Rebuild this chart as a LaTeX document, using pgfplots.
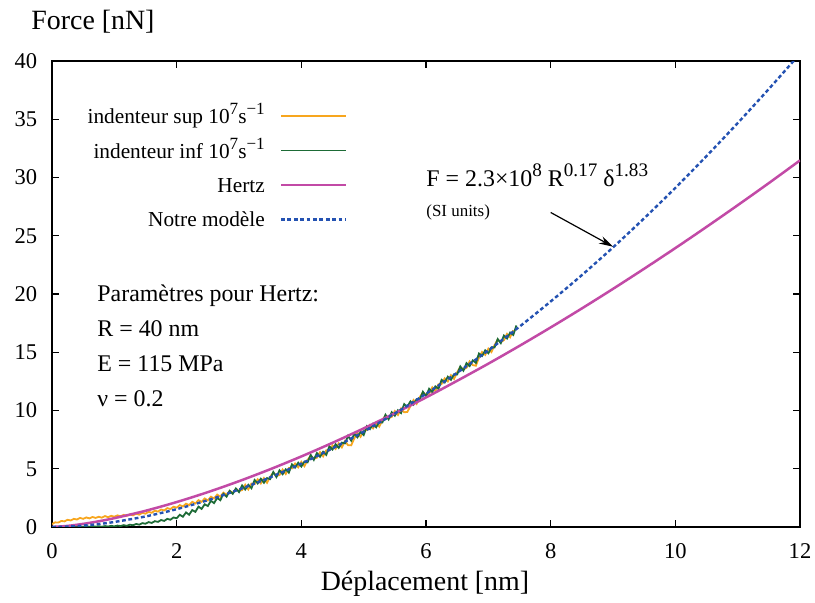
\documentclass[border=0pt]{standalone}
\usepackage{fontspec}
\setmainfont{Liberation Serif}
\usepackage{pgfplots}
\pgfplotsset{compat=1.18}
\usetikzlibrary{arrows.meta}
\definecolor{cOrange}{HTML}{F7A61E}
\definecolor{cGreen}{HTML}{1D6B36}
\definecolor{cPurple}{HTML}{C24AA6}
\definecolor{cBlue}{HTML}{2452B2}
\newcommand\sups[2]{\raisebox{0.42em}{\fontsize{#1}{#1}\selectfont #2}}
\begin{document}
\begin{tikzpicture}
\path[use as bounding box] (-26bp,-38bp) rectangle (381.5bp,263.5bp);
\begin{axis}[
  scale only axis, width=374bp, height=233bp,
  at={(0,0)}, anchor=south west,
  xmin=0, xmax=12, ymin=0, ymax=40,
  xtick={0,2,4,6,8,10,12}, ytick={0,5,10,15,20,25,30,35,40},
  tick align=inside, major tick length=3.5bp,
  axis line style={line width=0.6pt},
  every tick/.style={black, line width=0.6pt},
  /pgf/number format/assume math mode=true,
  tick label style={font=\fontsize{11.3}{13}\selectfont},
  xticklabel style={yshift=-4.7bp},
  yticklabel style={xshift=-3.9bp},
  clip mode=individual,
  legend cell align=right,
  legend plot pos=right,
  legend style={at={(axis cs:4.744,36.03)}, anchor=north east, draw=none, fill=none,
    inner sep=0pt, row sep=6.7bp, column sep=7.5bp, font=\fontsize{10.7}{12}\selectfont,
    nodes={inner sep=0pt, text height=8bp, text depth=2.5bp}},
  legend image code/.code={\draw[#1] (0bp,1bp) -- (32.5bp,1bp);},
]
\addplot[cOrange, line width=0.9bp] coordinates {
(0.00,0.25) (0.05,0.40) (0.10,0.38) (0.15,0.52) (0.20,0.48) (0.25,0.62) (0.30,0.56) (0.35,0.70)
(0.40,0.64) (0.45,0.78) (0.50,0.70) (0.55,0.82) (0.60,0.74) (0.65,0.86) (0.70,0.78) (0.75,0.88)
(0.80,0.80) (0.85,0.94) (0.90,0.84) (0.95,0.96) (1.00,0.88) (1.05,1.00) (1.10,0.92) (1.15,1.04)
(1.20,0.96) (1.25,1.08) (1.30,1.00) (1.35,1.14) (1.40,1.06) (1.45,1.22) (1.50,1.14) (1.55,1.30)
(1.60,1.22) (1.65,1.40) (1.70,1.32) (1.75,1.50) (1.80,1.42) (1.85,1.62) (1.90,1.54) (1.95,1.74)
(2.00,1.66) (2.05,1.88) (2.10,1.76) (2.15,2.00) (2.20,1.88) (2.25,2.16) (2.30,2.02) (2.35,2.30)
(2.40,2.16) (2.45,2.45) (2.50,2.28) (2.55,2.60) (2.60,2.45) (2.65,2.78) (2.70,2.60) (2.75,2.95)
(2.80,2.78) (2.85,3.10) (2.90,2.92) (2.95,3.28) (3.00,3.08) (3.05,3.17) (3.10,3.62) (3.15,3.22)
(3.20,3.73) (3.25,3.68) (3.30,4.09) (3.35,3.74) (3.40,4.20) (3.45,3.80) (3.50,4.31) (3.55,4.67)
(3.60,4.39) (3.65,4.46) (3.70,4.93) (3.75,4.55) (3.80,5.07) (3.85,5.03) (3.90,5.45) (3.95,5.12)
(4.00,5.59) (4.05,5.22) (4.10,5.75) (4.15,6.13) (4.20,5.86) (4.25,5.95) (4.30,6.43) (4.35,6.06)
(4.40,6.59) (4.45,6.57) (4.50,7.00) (4.55,6.70) (4.60,7.19) (4.65,6.84) (4.70,7.38) (4.75,7.02)
(4.80,7.01) (4.85,7.61) (4.90,8.10) (4.95,7.75) (5.00,8.29) (5.05,8.30) (5.10,8.75) (5.15,8.46)
(5.20,8.96) (5.25,8.62) (5.30,9.17) (5.35,9.58) (5.40,9.34) (5.45,9.45) (5.50,9.95) (5.55,9.62)
(5.60,10.18) (5.65,9.85) (5.70,9.87) (5.75,10.38) (5.80,10.90) (5.85,10.57) (5.90,11.14) (5.95,11.56)
(6.00,11.33) (6.05,11.46) (6.10,11.99) (6.15,11.67) (6.20,12.25) (6.25,12.28) (6.30,12.76) (6.35,12.50)
(6.40,13.03) (6.45,12.71) (6.50,13.29) (6.55,13.73) (6.60,13.52) (6.65,13.67) (6.70,14.21) (6.75,13.90)
(6.80,13.84) (6.85,14.54) (6.90,15.03) (6.95,14.77) (7.00,15.31) (7.05,15.02) (7.10,15.62) (7.15,16.08)
(7.20,15.88) (7.25,16.03) (7.30,16.58) (7.35,16.29) (7.40,16.89)
};
\addlegendentry{indenteur sup 10\sups{8.6}{7}s\sups{8.6}{−1}}
\addplot[cGreen, line width=0.9bp] coordinates {
(0.00,0.00) (0.05,0.03) (0.10,0.00) (0.15,0.04) (0.20,0.01) (0.25,0.03) (0.30,0.00) (0.35,0.05)
(0.40,0.02) (0.45,0.04) (0.50,0.01) (0.55,0.06) (0.60,0.02) (0.65,0.05) (0.70,0.03) (0.75,0.07)
(0.80,0.02) (0.85,0.08) (0.90,0.04) (0.95,0.10) (1.00,0.05) (1.05,0.12) (1.10,0.08) (1.15,0.16)
(1.20,0.10) (1.25,0.20) (1.30,0.15) (1.35,0.26) (1.40,0.20) (1.45,0.33) (1.50,0.28) (1.55,0.42)
(1.60,0.35) (1.65,0.50) (1.70,0.44) (1.75,0.60) (1.80,0.52) (1.85,0.70) (1.90,0.62) (1.95,0.82)
(2.00,0.75) (2.05,1.05) (2.10,0.88) (2.15,1.25) (2.20,1.05) (2.25,1.45) (2.30,1.30) (2.35,1.75)
(2.40,1.55) (2.45,1.95) (2.50,1.80) (2.55,2.25) (2.60,2.05) (2.65,2.50) (2.70,2.30) (2.75,2.85)
(2.80,2.60) (2.85,3.10) (2.90,2.85) (2.95,3.30) (3.00,3.00) (3.05,3.57) (3.10,3.22) (3.15,3.62)
(3.20,3.33) (3.25,4.03) (3.30,3.74) (3.35,4.14) (3.40,3.80) (3.45,4.20) (3.50,4.11) (3.55,4.72)
(3.60,4.29) (3.65,4.86) (3.70,4.53) (3.75,4.95) (3.80,4.67) (3.85,5.38) (3.90,5.10) (3.95,5.52)
(4.00,5.19) (4.05,5.62) (4.10,5.55) (4.15,6.18) (4.20,5.76) (4.25,6.35) (4.30,6.03) (4.35,6.46)
(4.40,6.19) (4.45,6.92) (4.50,6.65) (4.55,7.10) (4.60,6.79) (4.65,7.24) (4.70,7.18) (4.75,7.82)
(4.80,7.41) (4.85,8.01) (4.90,7.70) (4.95,8.15) (5.00,7.89) (5.05,8.65) (5.10,8.40) (5.15,8.86)
(5.20,8.56) (5.25,9.02) (5.30,8.97) (5.35,9.63) (5.40,9.24) (5.45,9.85) (5.50,9.55) (5.55,10.02)
(5.60,9.78) (5.65,10.55) (5.70,10.32) (5.75,10.78) (5.80,10.50) (5.85,10.97) (5.90,10.94) (5.95,11.61)
(6.00,11.23) (6.05,11.86) (6.10,11.59) (6.15,12.07) (6.20,11.85) (6.25,12.63) (6.30,12.41) (6.35,12.90)
(6.40,12.63) (6.45,13.11) (6.50,13.09) (6.55,13.78) (6.60,13.42) (6.65,14.07) (6.70,13.81) (6.75,14.30)
(6.80,14.09) (6.85,14.89) (6.90,14.68) (6.95,15.17) (7.00,14.91) (7.05,15.42) (7.10,15.42) (7.15,16.13)
(7.20,15.78) (7.25,16.43) (7.30,16.18) (7.35,16.69) (7.40,16.49) (7.45,17.30)
};
\addlegendentry{indenteur inf 10\sups{8.6}{7}s\sups{8.6}{−1}}
\addplot[cPurple, line width=1.25bp, smooth] coordinates {
(0,0) (0.25,0.095) (0.5,0.268) (0.75,0.492) (1,0.757) (1.5,1.391) (2,2.141) (2.5,2.992)
(3,3.933) (3.5,4.957) (4,6.056) (4.5,7.226) (5,8.464) (5.5,9.765) (6,11.12) (6.5,12.55)
(7,14.02) (7.5,15.55) (8,17.13) (8.5,18.76) (9,20.44) (9.5,22.17) (10,23.94) (10.5,25.76)
(11,27.62) (11.5,29.52) (12,31.47)
};
\addlegendentry{Hertz}
\addplot[cBlue, line width=1.2bp, dash pattern=on 1.9bp off 1.3bp, smooth] coordinates {
(0,0) (0.25,0.034) (0.5,0.121) (0.75,0.254) (1,0.431) (1.5,0.904) (2,1.531) (2.5,2.303)
(3,3.215) (3.5,4.263) (4,5.443) (4.5,6.752) (5,8.186) (5.5,9.749) (6,11.43) (6.5,13.24)
(7,15.16) (7.5,17.20) (8,19.36) (8.5,21.62) (9,24.00) (9.5,26.50) (10,29.11) (10.5,31.84)
(11,34.67) (11.5,37.60) (11.9,40.02)
};
\addlegendentry{Notre modèle}
\draw[-{Stealth[length=7bp,width=4bp]}, line width=0.6pt] (axis cs:8.0,27.0) -- (axis cs:9.0,24.06);
\end{axis}
\node[anchor=base west, inner sep=0pt, font=\fontsize{14}{16}\selectfont] at (-10.5bp,248.5bp) {Force [nN]};
\node[anchor=base, inner sep=0pt, font=\fontsize{14}{16}\selectfont] at (186.5bp,-31.5bp) {Déplacement [nm]};
\node[anchor=base west, inner sep=0pt, font=\fontsize{12}{14}\selectfont] at (22.5bp,112.7bp) {Paramètres pour Hertz:};
\node[anchor=base west, inner sep=0pt, font=\fontsize{12}{14}\selectfont] at (22.5bp,95.2bp) {R = 40 nm};
\node[anchor=base west, inner sep=0pt, font=\fontsize{12}{14}\selectfont] at (22.5bp,77.7bp) {E = 115 MPa};
\node[anchor=base west, inner sep=0pt, font=\fontsize{12}{14}\selectfont] at (22.5bp,60.2bp) {ν = 0.2};
\node[anchor=base west, font=\fontsize{12}{14}\selectfont, inner sep=0pt] at (187bp,170.2bp) {F = 2.3×10\sups{9.6}{8} R\sups{9.6}{0.17} δ\sups{9.6}{1.83}};
\node[anchor=base west, font=\fontsize{8.5}{10}\selectfont, inner sep=0pt] at (187bp,155bp) {(SI units)};
\end{tikzpicture}
\end{document}
